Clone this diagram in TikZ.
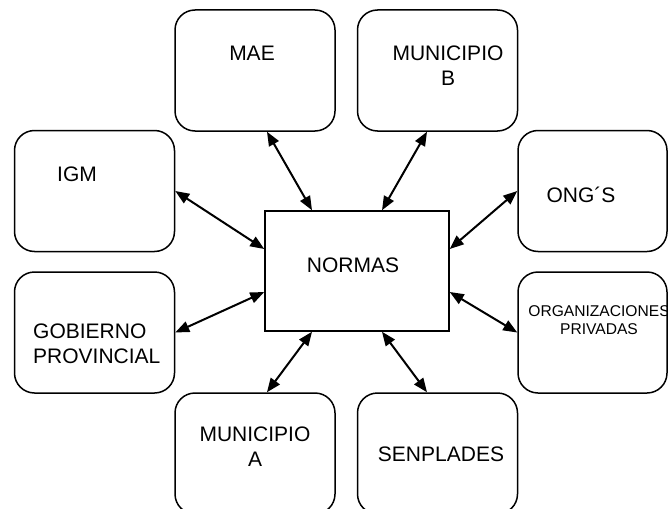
\documentclass[tikz,border=0pt]{standalone}
\usepackage{fontspec}
\setmainfont{Liberation Sans}
\usetikzlibrary{arrows.meta,positioning}
\begin{document}
\begin{tikzpicture}[x=1pt,y=-1pt,
  caja/.style={draw,line width=1.5pt,rounded corners=20pt,inner sep=0pt,minimum width=160pt,minimum height=121pt},
  texto/.style={inner sep=0pt,align=center,font=\fontsize{21}{25}\selectfont},
  flecha/.style={line width=2pt,{Triangle[length=14pt,width=11pt]}-{Triangle[length=14pt,width=11pt]}}]
\useasboundingbox (0,0) rectangle (668,508);
\clip (0,0) rectangle (668,508);
% cajas
\node [caja] (mae) at (255,70.5) {};
\node [caja] (munb) at (437.5,70.5) {};
\node [caja] (igm) at (94.5,191) {};
\node [caja,minimum width=149pt] (ongs) at (592.5,191) {};
\node [caja] (gob) at (94.5,332.5) {};
\node [caja,minimum width=149pt] (org) at (592.5,332.5) {};
\node [caja] (muna) at (255,453.5) {};
\node [caja] (senp) at (437.5,453.5) {};
\node [draw,line width=1.5pt,inner sep=0pt,minimum width=184pt,minimum height=120pt] (normas) at (357,271) {};
% textos
\node [texto] (tmae) at (252,53) {MAE};
\node [texto] (tmunb) at (448,66) {MUNICIPIO\\B};
\node [texto] (tigm) at (77,174) {IGM};
\node [texto] (tongs) at (581,194.5) {ONG´S};
\node [texto] (tnormas) at (353,265.5) {NORMAS};
\node [texto,align=left,anchor=west] (tgob) at (33,344) {GOBIERNO\\PROVINCIAL};
\node [texto,font=\fontsize{15.6}{18}\selectfont] (torg) at (599,320) {ORGANIZACIONES\\PRIVADAS};
\node [texto] (tmuna) at (255,447) {MUNICIPIO\\A};
\node [texto] (tsenp) at (441,454.5) {SENPLADES};
% flechas
\draw [flecha] ([xshift=12pt]mae.south) -- ([xshift=-45pt]normas.north);
\draw [flecha] ([xshift=-10.5pt]munb.south) -- ([xshift=25pt]normas.north);
\draw [flecha] (igm.east) -- ([yshift=22pt]normas.west);
\draw [flecha] (ongs.west) -- ([yshift=22pt]normas.east);
\draw [flecha] (gob.east) -- ([yshift=-21pt]normas.west);
\draw [flecha] (org.west) -- ([yshift=-21pt]normas.east);
\draw [flecha] ([xshift=12pt]muna.north) -- ([xshift=-45pt]normas.south);
\draw [flecha] ([xshift=-10.5pt]senp.north) -- ([xshift=25pt]normas.south);
\end{tikzpicture}
\end{document}
